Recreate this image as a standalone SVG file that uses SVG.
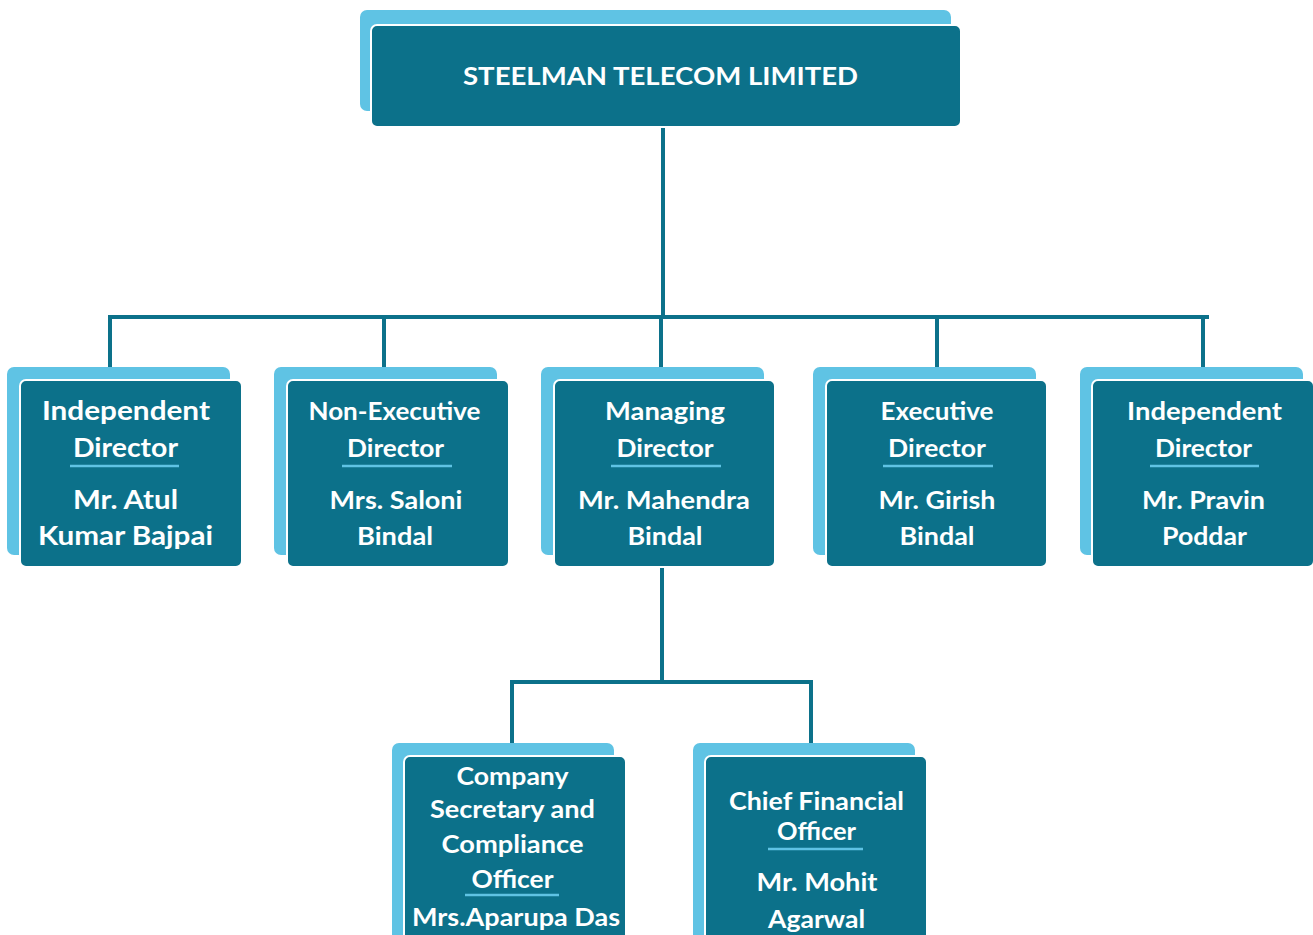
<svg xmlns="http://www.w3.org/2000/svg" width="1313" height="935" viewBox="0 0 1313 935">
<style>
.back{fill:#5FC3E4}
.front{fill:#0C718A;stroke:#ffffff;stroke-width:2}
.t{font-family:Lato,"Liberation Sans",sans-serif;font-weight:bold;font-size:25px;fill:#ffffff;text-anchor:middle}
.u{stroke:#5FC3E4;stroke-width:2.5}
.c{stroke:#0C718A;stroke-width:4;fill:none}
</style>
<rect width="1313" height="935" fill="#ffffff"/>
<g id="connectors">
<line class="c" x1="663" y1="126" x2="663" y2="319"/>
<line class="c" x1="108" y1="317" x2="1209" y2="317"/>
<line class="c" x1="110" y1="315" x2="110" y2="369"/>
<line class="c" x1="384" y1="315" x2="384" y2="369"/>
<line class="c" x1="661" y1="315" x2="661" y2="381"/>
<line class="c" x1="937" y1="315" x2="937" y2="369"/>
<line class="c" x1="1203" y1="315" x2="1203" y2="369"/>
<line class="c" x1="662" y1="566" x2="662" y2="684"/>
<line class="c" x1="510" y1="682" x2="813" y2="682"/>
<line class="c" x1="512" y1="680" x2="512" y2="745"/>
<line class="c" x1="811" y1="680" x2="811" y2="745"/>
</g>
<g id="root">
<rect class="back" x="360" y="10" width="591" height="101" rx="7"/>
<rect class="front" x="371" y="25" width="590" height="102" rx="6"/>
<text class="t" x="660.5" y="85" textLength="395" lengthAdjust="spacingAndGlyphs">STEELMAN TELECOM LIMITED</text>
</g>
<g id="n1">
<rect class="back" x="7" y="367" width="223" height="188" rx="7"/>
<rect class="front" x="20" y="380" width="222" height="187" rx="6"/>
<text class="t" x="126" y="420" style="font-size:26px" textLength="168" lengthAdjust="spacingAndGlyphs">Independent</text>
<text class="t" x="125.5" y="457" style="font-size:26px" textLength="105" lengthAdjust="spacingAndGlyphs">Director</text>
<line class="u" x1="70" y1="466" x2="179" y2="466"/>
<text class="t" x="125.5" y="509" style="font-size:26px" textLength="105" lengthAdjust="spacingAndGlyphs">Mr. Atul</text>
<text class="t" x="125.5" y="545" style="font-size:26px" textLength="175" lengthAdjust="spacingAndGlyphs">Kumar Bajpai</text>
</g>
<g id="n2">
<rect class="back" x="274" y="367" width="223" height="188" rx="7"/>
<rect class="front" x="287" y="380" width="222" height="187" rx="6"/>
<text class="t" x="394.5" y="419.5" textLength="172" lengthAdjust="spacingAndGlyphs">Non-Executive</text>
<text class="t" x="395.5" y="457" textLength="97" lengthAdjust="spacingAndGlyphs">Director</text>
<line class="u" x1="342" y1="466" x2="452" y2="466"/>
<text class="t" x="396" y="509" textLength="133" lengthAdjust="spacingAndGlyphs">Mrs. Saloni</text>
<text class="t" x="395" y="545" textLength="76" lengthAdjust="spacingAndGlyphs">Bindal</text>
</g>
<g id="n3">
<rect class="back" x="541" y="367" width="223" height="188" rx="7"/>
<rect class="front" x="554" y="380" width="221" height="187" rx="6"/>
<text class="t" x="665" y="419.5" textLength="120" lengthAdjust="spacingAndGlyphs">Managing</text>
<text class="t" x="665" y="457" textLength="97" lengthAdjust="spacingAndGlyphs">Director</text>
<line class="u" x1="611" y1="466" x2="721" y2="466"/>
<text class="t" x="664" y="509" textLength="172" lengthAdjust="spacingAndGlyphs">Mr. Mahendra</text>
<text class="t" x="665" y="545" textLength="75" lengthAdjust="spacingAndGlyphs">Bindal</text>
</g>
<g id="n4">
<rect class="back" x="813" y="367" width="223" height="188" rx="7"/>
<rect class="front" x="826" y="380" width="221" height="187" rx="6"/>
<text class="t" x="937" y="419.5" textLength="113" lengthAdjust="spacingAndGlyphs">Executive</text>
<text class="t" x="937" y="457" textLength="98" lengthAdjust="spacingAndGlyphs">Director</text>
<line class="u" x1="883" y1="466" x2="993" y2="466"/>
<text class="t" x="937" y="509" textLength="117" lengthAdjust="spacingAndGlyphs">Mr. Girish</text>
<text class="t" x="937" y="545" textLength="75" lengthAdjust="spacingAndGlyphs">Bindal</text>
</g>
<g id="n5">
<rect class="back" x="1080" y="367" width="223" height="188" rx="7"/>
<rect class="front" x="1092" y="380" width="222" height="187" rx="6"/>
<text class="t" x="1204.5" y="419.5" textLength="155" lengthAdjust="spacingAndGlyphs">Independent</text>
<text class="t" x="1203.5" y="457" textLength="97" lengthAdjust="spacingAndGlyphs">Director</text>
<line class="u" x1="1150" y1="466" x2="1259" y2="466"/>
<text class="t" x="1203.5" y="509" textLength="123" lengthAdjust="spacingAndGlyphs">Mr. Pravin</text>
<text class="t" x="1204.5" y="545" textLength="85" lengthAdjust="spacingAndGlyphs">Poddar</text>
</g>
<g id="n6">
<rect class="back" x="392" y="743" width="222" height="200" rx="7"/>
<rect class="front" x="404" y="756" width="222" height="200" rx="6"/>
<text class="t" x="512.5" y="785" textLength="112" lengthAdjust="spacingAndGlyphs">Company</text>
<text class="t" x="512.5" y="818" textLength="165" lengthAdjust="spacingAndGlyphs">Secretary and</text>
<text class="t" x="512.5" y="853" textLength="142" lengthAdjust="spacingAndGlyphs">Compliance</text>
<text class="t" x="512.5" y="888" textLength="82" lengthAdjust="spacingAndGlyphs">Officer</text>
<line class="u" x1="465" y1="895" x2="559" y2="895"/>
<text class="t" x="516" y="926" textLength="208" lengthAdjust="spacingAndGlyphs">Mrs.Aparupa Das</text>
</g>
<g id="n7">
<rect class="back" x="693" y="743" width="222" height="200" rx="7"/>
<rect class="front" x="705" y="756" width="222" height="200" rx="6"/>
<text class="t" x="816.5" y="810" textLength="175" lengthAdjust="spacingAndGlyphs">Chief Financial</text>
<text class="t" x="816.5" y="840" textLength="79" lengthAdjust="spacingAndGlyphs">Officer</text>
<line class="u" x1="768" y1="849" x2="863" y2="849"/>
<text class="t" x="817" y="891" textLength="121" lengthAdjust="spacingAndGlyphs">Mr. Mohit</text>
<text class="t" x="816.5" y="928" textLength="97" lengthAdjust="spacingAndGlyphs">Agarwal</text>
</g>
</svg>
